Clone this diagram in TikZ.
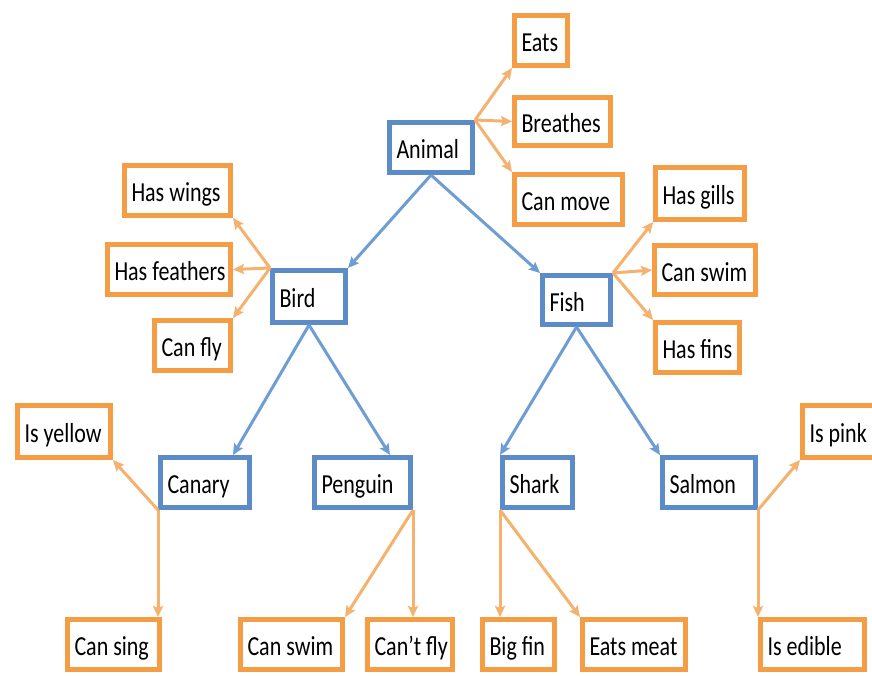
\documentclass[tikz,border=0pt]{standalone}
\usepackage{fontspec}
\setmainfont{Carlito}[FakeStretch=0.8]
\usetikzlibrary{arrows.meta,calc}
\definecolor{boxblue}{HTML}{5B8CC8}
\definecolor{lineblue}{HTML}{6E9DD3}
\definecolor{boxorange}{HTML}{F59D45}
\definecolor{lineorange}{HTML}{F5B26E}

% box given by its outer edges: name, style, left, top, right, bottom, text
\newcommand\fbx[7]{%
  \pgfmathsetmacro\fbxw{#5-#3-5}%
  \pgfmathsetmacro\fbxh{#6-#4-5}%
  \pgfmathsetmacro\fbxt{#5-#3-5-14}%
  \node[#2, anchor=north west, minimum width=\fbxw pt, minimum height=\fbxh pt] (#1) at (#3,#4) {\makebox[\fbxt pt][l]{#7}};}

\begin{document}
\begin{tikzpicture}[x=1pt,y=-1pt,
  basebox/.style={rectangle, line width=5pt, outer sep=2.5pt, fill=white,
    inner xsep=7pt, inner ysep=0pt, text height=23pt, text depth=1pt,
    font=\fontsize{27.5}{30}\selectfont},
  classbox/.style={basebox, draw=boxblue},
  propbox/.style={basebox, draw=boxorange},
  tip/.style={-{Stealth[length=11pt,width=10pt,inset=2pt]}},
  isa/.style={draw=lineblue, line width=3pt, tip},
  has/.style={draw=lineorange, line width=3pt, tip}]
\useasboundingbox (0,0) rectangle (872,675);
\clip (0,0) rectangle (872,675);
\fill[white] (0,0) rectangle (872,675);

% classes
\fbx{animal}{classbox}{387}{120}{475}{175}{Animal}
\fbx{bird}{classbox}{270}{268}{348}{325}{Bird}
\fbx{fish}{classbox}{540}{273}{613}{327}{Fish}
\fbx{canary}{classbox}{158}{455}{252}{510}{Canary}
\fbx{penguin}{classbox}{312}{455}{413}{510}{Penguin}
\fbx{shark}{classbox}{500}{455}{575}{510}{Shark}
\fbx{salmon}{classbox}{660}{455}{758}{510}{Salmon}

% properties
\fbx{eats}{propbox}{512}{13}{570}{68}{Eats}
\fbx{breathes}{propbox}{512}{95}{613}{148}{Breathes}
\fbx{canmove}{propbox}{512}{172}{625}{227}{Can move}
\fbx{haswings}{propbox}{122}{163}{233}{218}{Has wings}
\fbx{hasfeathers}{propbox}{105}{242}{233}{297}{Has feathers}
\fbx{canfly}{propbox}{152}{318}{233}{373}{Can fly}
\fbx{hasgills}{propbox}{653}{165}{747}{222}{Has gills}
\fbx{fishswim}{propbox}{652}{243}{758}{297}{Can swim}
\fbx{hasfins}{propbox}{653}{320}{742}{375}{Has fins}
\fbx{isyellow}{propbox}{15}{403}{113}{460}{Is yellow}
\fbx{ispink}{propbox}{800}{403}{878}{460}{Is pink}
\fbx{cansing}{propbox}{65}{617}{162}{672}{Can sing}
\fbx{penguinswim}{propbox}{238}{617}{345}{672}{Can swim}
\fbx{cantfly}{propbox}{365}{617}{455}{672}{Can’t fly}
\fbx{bigfin}{propbox}{480}{617}{557}{672}{Big fin}
\fbx{eatsmeat}{propbox}{580}{617}{688}{672}{Eats meat}
\fbx{isedible}{propbox}{758}{617}{867}{672}{Is edible}

% is-a links
\draw[isa] (animal.south) -- (bird.north east);
\draw[isa] (animal.south) -- (fish.north west);
\draw[isa] (bird.south) -- ($(canary.north east)+(-19,0)$);
\draw[isa] (bird.south) -- ($(penguin.north east)+(-23,0)$);
\draw[isa] (fish.south) -- (shark.north west);
\draw[isa] (fish.south) -- (salmon.north west);

% property links
\draw[has] (animal.north east) -- (eats.south west);
\draw[has] (animal.north east) -- (breathes.west);
\draw[has] (animal.north east) -- (canmove.north west);
\draw[has] (bird.north west) -- (haswings.south east);
\draw[has] (bird.north west) -- (hasfeathers.east);
\draw[has] (bird.north west) -- (canfly.north east);
\draw[has] (fish.north east) -- (hasgills.south west);
\draw[has] (fish.north east) -- (fishswim.west);
\draw[has] (fish.north east) -- (hasfins.north west);
\draw[has] (canary.south west) -- (isyellow.south east);
\draw[has] (canary.south west) -- (canary.south west |- cansing.north);
\draw[has] (penguin.south east) -- (penguinswim.north east);
\draw[has] (penguin.south east) -- (penguin.south east |- cantfly.north);
\draw[has] (shark.south west) -- (shark.south west |- bigfin.north);
\draw[has] (shark.south west) -- (eatsmeat.north west);
\draw[has] (salmon.south east) -- (ispink.south west);
\draw[has] (salmon.south east) -- (salmon.south east |- isedible.north);
\end{tikzpicture}
\end{document}
